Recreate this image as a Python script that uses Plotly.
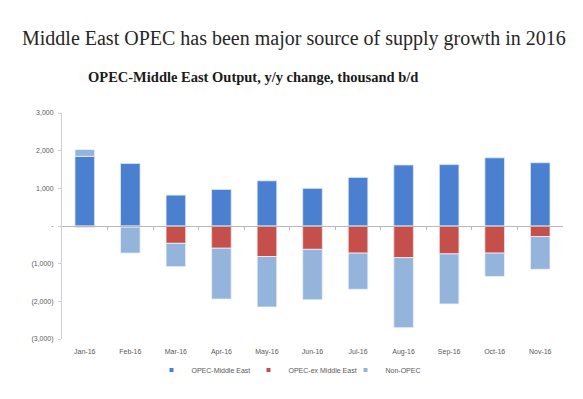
import numpy as np
import plotly.graph_objects as go

categories = ["Jan-16", "Feb-16", "Mar-16", "Apr-16", "May-16", "Jun-16",
              "Jul-16", "Aug-16", "Sep-16", "Oct-16", "Nov-16"]
opec_me = [1850, 1660, 820, 970, 1200, 1000, 1290, 1620, 1630, 1810, 1680]
opec_ex_me = [-30, -30, -460, -590, -810, -620, -720, -840, -740, -720, -280]
non_opec = [180, -690, -620, -1350, -1340, -1340, -960, -1860, -1330, -620, -870]

y_tickvals = [3000, 2000, 1000, 0, -1000, -2000, -3000]
y_ticktext = ["3,000", "2,000", "1,000", "-", "(1,000)", "(2,000)", "(3,000)"]

series_names = ["OPEC-Middle East", "OPEC-ex Middle East", "Non-OPEC"]
title = "Middle East OPEC has been major source of supply growth in 2016"
subtitle = "OPEC-Middle East Output, y/y change, thousand b/d"

c_blue = "#4a80cf"
c_red = "#c44f4b"
c_light = "#95b4dc"
colors = [c_blue, c_red, c_light]
edge = ["#dfe8f5", "#f3dede", "#eef3fa"]

fig = go.Figure()
for name, vals, col, ec in zip(series_names, [opec_me, opec_ex_me, non_opec], colors, edge):
    fig.add_trace(go.Bar(x=categories, y=vals, name=name, showlegend=False,
                         marker=dict(color=col, line=dict(color=ec, width=0.8))))
for name, col in zip(series_names, colors):
    fig.add_trace(go.Scatter(x=[None], y=[None], mode="markers", name=name,
                             marker=dict(symbol="square", size=4, color=col)))

n = len(categories)
# page body has an 8px margin: lay out in figure pixel coordinates
W, H = 575, 391
pl, pr, pt, pb = 54, 20, 105, 60
pw, ph = W - pl - pr, H - pt - pb


def px_x(x):
    return (x - pl) / pw


def px_y(y):
    return (H - pb - y) / ph


fig.update_layout(
    width=W, height=H,
    barmode="relative", bargap=0.57,
    paper_bgcolor="white", plot_bgcolor="white",
    margin=dict(l=pl, r=pr, t=pt, b=pb, autoexpand=False),
    font=dict(family="Liberation Sans, Arial", color="#595959", size=7),
    showlegend=True,
    legend=dict(orientation="h", x=px_x(289), xanchor="center", y=px_y(362), yanchor="middle",
                font=dict(size=7, color="#595959"), itemwidth=30, entrywidth=52,
                traceorder="normal", tracegroupgap=0),
    xaxis=dict(type="category", showline=False, ticks="outside", ticklen=6,
               tickcolor="rgba(0,0,0,0)", showgrid=False,
               tickfont=dict(size=7, color="#595959"), range=[-0.5, n - 0.5]),
    xaxis2=dict(overlaying="x", anchor="free", position=0.5, range=[-0.5, n - 0.5],
                showline=True, linecolor="#b8b8b8", linewidth=1,
                tickmode="array", tickvals=list(np.arange(0.5, n - 1, 1.0)),
                ticks="outside", ticklen=3, tickcolor="#b8b8b8",
                showticklabels=False, showgrid=False, zeroline=False),
    yaxis=dict(range=[-3000, 3000], tickvals=y_tickvals, ticktext=y_ticktext,
               showline=True, linecolor="#cfcfcf", linewidth=1,
               ticks="outside", ticklen=3, tickcolor="#cfcfcf",
               ticklabelstandoff=3,
               showgrid=False, zeroline=False,
               tickfont=dict(size=7, color="#595959")),
    annotations=[
        dict(text=title, x=px_x(286), y=px_y(30), xref="paper", yref="paper",
             xanchor="center", yanchor="middle", showarrow=False,
             font=dict(family="Liberation Serif, Times New Roman", size=20, color="#262626")),
        dict(text="<b>" + subtitle + "</b>", x=px_x(78), y=px_y(69), xref="paper", yref="paper",
             xanchor="left", yanchor="middle", showarrow=False,
             font=dict(family="Liberation Serif, Times New Roman", size=14.5, color="#1a1a1a")),
    ],
)

fig.add_trace(go.Scatter(x=[None], y=[None], xaxis="x2", showlegend=False, hoverinfo="skip"))

fig.write_html("out.html")
